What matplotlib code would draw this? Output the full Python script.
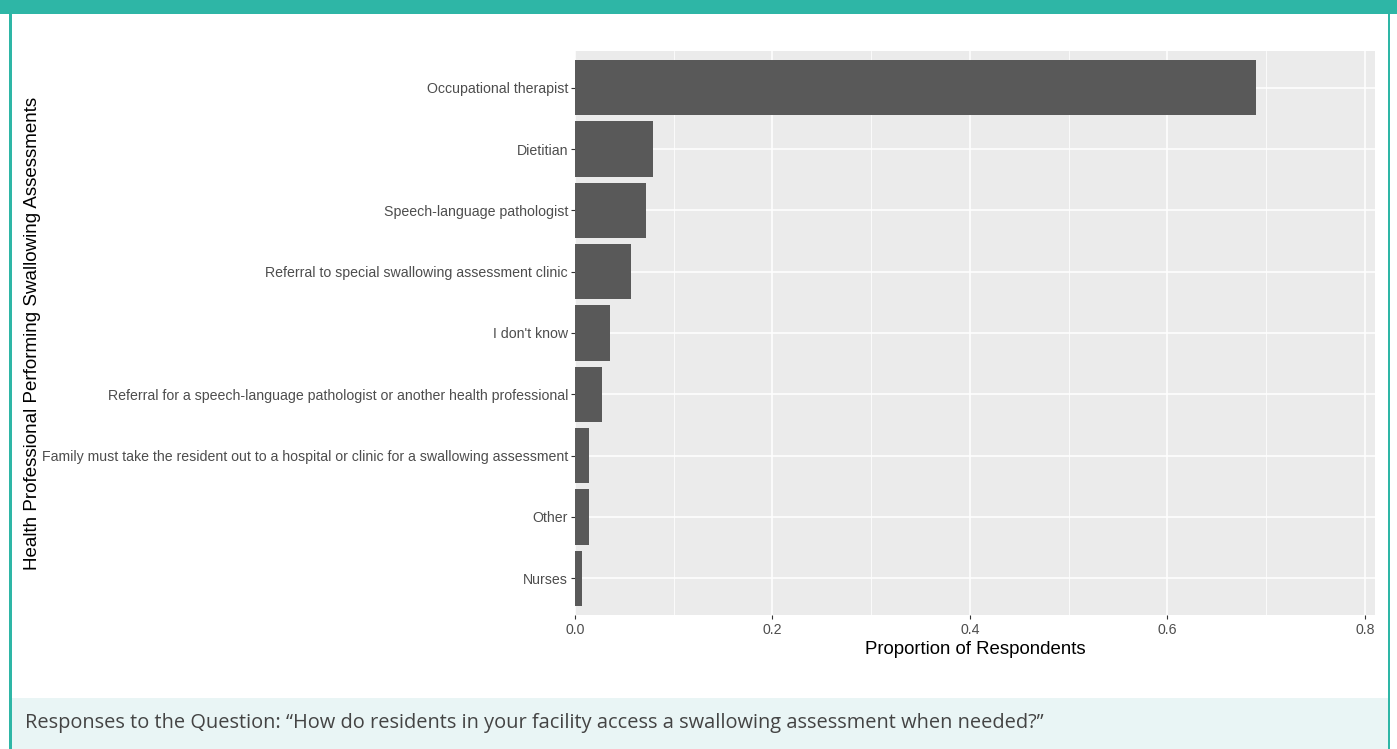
import matplotlib
matplotlib.use("Agg")
import matplotlib.pyplot as plt
from matplotlib.patches import Rectangle
from matplotlib.ticker import MultipleLocator

categories = [
    "Occupational therapist",
    "Dietitian",
    "Speech-language pathologist",
    "Referral to special swallowing assessment clinic",
    "I don't know",
    "Referral for a speech-language pathologist or another health professional",
    "Family must take the resident out to a hospital or clinic for a swallowing assessment",
    "Other",
    "Nurses",
]
proportions = [0.690, 0.0786, 0.0715, 0.0570, 0.0354, 0.0276, 0.0139, 0.0139, 0.0069]
x_ticks = [0.0, 0.2, 0.4, 0.6, 0.8]
x_tick_labels = ["0.0", "0.2", "0.4", "0.6", "0.8"]
x_title = "Proportion of Respondents"
y_title = "Health Professional Performing Swallowing Assessments"
caption = "Responses to the Question: \u201cHow do residents in your facility access a swallowing assessment when needed?\u201d"

W, H = 1397, 749
fig = plt.figure(figsize=(W / 100, H / 100), dpi=100)
fig.patch.set_facecolor("white")

teal = "#2EB6A6"
# top band
fig.patches.append(Rectangle((0, 1 - 14 / H), 1, 14 / H, transform=fig.transFigure,
                             facecolor=teal, edgecolor="none", zorder=0))
# caption box
fig.patches.append(Rectangle((11 / W, 0), (1388 - 11) / W, 51 / H, transform=fig.transFigure,
                             facecolor="#E9F5F5", edgecolor="none", zorder=0))
# side borders
fig.patches.append(Rectangle((9 / W, 0), 2.5 / W, 1, transform=fig.transFigure,
                             facecolor=teal, edgecolor="none", zorder=1))
fig.patches.append(Rectangle((1387.5 / W, 0), 2.5 / W, 1, transform=fig.transFigure,
                             facecolor=teal, edgecolor="none", zorder=1))

ax = fig.add_axes([575 / W, 1 - 615 / H, (1375 - 575) / W, (615 - 51) / H])
ax.set_facecolor("#EBEBEB")

n = len(categories)
ypos = list(range(n - 1, -1, -1))
ax.barh(ypos, proportions, height=0.9, color="#595959", zorder=3)

ax.set_xlim(0, 0.8102)
ax.set_ylim(-0.6, n - 1 + 0.6)
ax.set_xticks(x_ticks)
ax.set_xticklabels(x_tick_labels)
ax.xaxis.set_minor_locator(MultipleLocator(0.1))
ax.set_yticks(ypos)
ax.set_yticklabels(categories)

ax.grid(which="major", axis="both", color="white", linewidth=1.1, zorder=1)
ax.grid(which="minor", axis="x", color="white", linewidth=0.55, zorder=1)
ax.set_axisbelow(True)
for s in ax.spines.values():
    s.set_visible(False)

lab_font = dict(family=["Liberation Sans", "DejaVu Sans"])
ax.tick_params(axis="both", which="major", length=3, width=0.8, color="#333333",
               labelcolor="#4D4D4D", labelsize=10.2)
ax.tick_params(axis="x", which="minor", length=0)
ax.tick_params(axis="y", pad=2)
ax.tick_params(axis="x", pad=3)
for t in ax.get_xticklabels() + ax.get_yticklabels():
    t.set_fontfamily(["Liberation Sans", "DejaVu Sans"])

fig.text((575 + 1375) / 2 / W, 1 - 649 / H, x_title, ha="center", va="center",
         fontsize=13.4, color="black", **lab_font)
fig.text(33 / W, 1 - 333 / H, y_title, ha="center", va="center", rotation=90,
         fontsize=13.5, color="black", **lab_font)

fig.text(25 / W, 1 - 723 / H, caption, ha="left", va="center", fontsize=14.4,
         color="#444444", family=["Open Sans", "DejaVu Sans"])

fig.savefig("out.png", dpi=100, facecolor=fig.get_facecolor())
